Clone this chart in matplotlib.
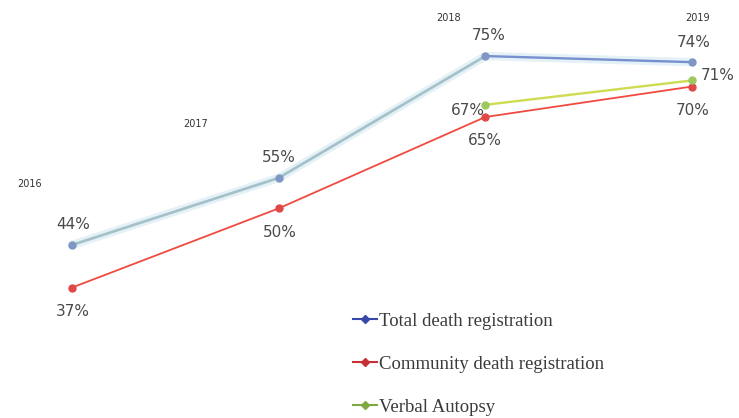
import matplotlib
matplotlib.use("Agg")
import matplotlib.pyplot as plt
from matplotlib.lines import Line2D
import numpy as np

years = [2016, 2017, 2018, 2019]
total = [44, 55, 75, 74]
community = [37, 50, 65, 70]
va_years = [2018, 2019]
verbal = [67, 71]
series_names = ["Total death registration", "Community death registration", "Verbal Autopsy"]

fig = plt.figure(figsize=(7.39, 4.18), dpi=100)
ax = fig.add_axes([0, 0, 1, 1])
ax.set_xlim(2015.652, 2019.227)
ax.set_ylim(15.6, 84.2)
ax.axis("off")

# Total: glow + line segments
ax.plot(years, total, color="#e4f1f7", lw=6, solid_capstyle="round", zorder=1)
ax.plot(years[:3], total[:3], color="#a4c0c8", lw=1.9, zorder=2)
ax.plot(years[2:], total[2:], color="#7890d0", lw=1.7, zorder=2)
ax.plot(years, total, ls="none", marker="o", ms=5, color="#8096c4", zorder=4)

ax.plot(years, community, color="#f04a40", lw=1.3, marker="o", ms=5,
        markerfacecolor="#e04848", markeredgecolor="#e04848", zorder=3)
ax.plot(va_years, verbal, color="#cfdc50", lw=1.7, marker="o", ms=5,
        markerfacecolor="#9cc860", markeredgecolor="#9cc860", zorder=3)

pct_font = dict(family="DejaVu Sans", fontsize=11, color="#4a4a4a")
tot_off = [(1, 20), (0, 20), (3, 21), (2, 20)]
com_off = [(1, -24), (1, -24), (0, -24), (1, -24)]
va_off = [(-17, -6), (26, 5)]
for x, v, o in zip(years, total, tot_off):
    ax.annotate(f"{v}%", (x, v), xytext=o, textcoords="offset pixels",
                ha="center", va="center", **pct_font)
for x, v, o in zip(years, community, com_off):
    ax.annotate(f"{v}%", (x, v), xytext=o, textcoords="offset pixels",
                ha="center", va="center", **pct_font)
for x, v, o in zip(va_years, verbal, va_off):
    ax.annotate(f"{v}%", (x, v), xytext=o, textcoords="offset pixels",
                ha="center", va="center", **pct_font)

yr_off = [(-42, 61), (-83, 54), (-37, 38), (5, 44)]
for x, v, o in zip(years, total, yr_off):
    ax.annotate(str(x), (x, v), xytext=o, textcoords="offset pixels",
                ha="center", va="center", fontsize=7, color="#333333",
                family="DejaVu Sans")

handles = [
    Line2D([], [], color="#3848a8", lw=1.5, marker="D", ms=4),
    Line2D([], [], color="#c83038", lw=1.5, marker="D", ms=4),
    Line2D([], [], color="#80a840", lw=1.5, marker="D", ms=4),
]
leg = ax.legend(handles, series_names, loc="upper left", bbox_to_anchor=(0.455, 0.293),
                frameon=False, labelspacing=1.38, handlelength=1.3, handletextpad=0.1,
                prop={"family": "Liberation Serif", "size": 13.5})
for t in leg.get_texts():
    t.set_color("#3a3a3a")

fig.savefig("out.png", dpi=100)
